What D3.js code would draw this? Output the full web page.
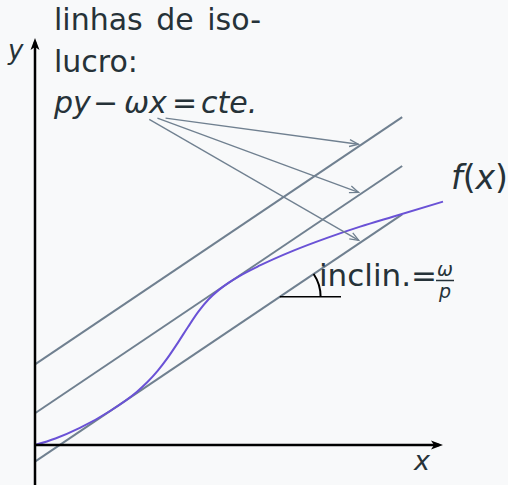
<!DOCTYPE html>
<html>
<head>
<meta charset="utf-8">
<script src="https://cdn.jsdelivr.net/npm/d3@7"></script>
<style>
  html, body { margin: 0; padding: 0; background: #f8f9fa; }
  svg { display: block; }
  text { font-family: "DejaVu Sans", sans-serif; fill: #263238; }
</style>
</head>
<body>
<script>
// Production function f(x): sampled points (x, y)
const curveX = [0, 0.5, 1.1, 1.84, 2.5, 2.75, 3.0, 3.25, 3.5, 3.75, 4.0, 4.25, 4.5, 4.75, 5.0, 5.5, 6.32, 7.16, 7.97, 8.77, 10];
const curveY = [0, 0.16, 0.42, 0.835, 1.31, 1.54, 1.815, 2.14, 2.51, 2.90, 3.27, 3.575, 3.805, 3.99, 4.145, 4.405, 4.77, 5.09, 5.365, 5.61, 5.98];

// Iso-profit lines y = c + (w/p) x
const slope = 0.675;
const intercepts = [1.98, 0.78, -0.41];
const lineXRange = [0, 9];

// Annotation arrows: start points near the equation, ending on each line at x = 8
const arrowStarts = [[3.2, 8.03], [3.0, 8.03], [2.8, 8.0]];
const arrowTargetX = 8;

// Slope marker on the lowest line
const angleCenterX = 6.0;
const angleLegEnd = 7.5;
const angleRadius = 1.0;

const W = 508, H = 485;
const svg = d3.select("body").append("svg").attr("width", W).attr("height", H);
svg.append("rect").attr("width", W).attr("height", H).attr("fill", "#f8f9fa");

const x = d3.scaleLinear().domain([0, 10]).range([35, 443]);
const y = d3.scaleLinear().domain([0, 10]).range([445, 38]);

const gray = "#708090";

// Iso-profit lines
svg.append("g").selectAll("line").data(intercepts).join("line")
  .attr("x1", x(lineXRange[0])).attr("y1", c => y(c + slope * lineXRange[0]))
  .attr("x2", x(lineXRange[1])).attr("y2", c => y(c + slope * lineXRange[1]))
  .attr("stroke", gray).attr("stroke-width", 2);

// f(x)
const pts = curveX.map((v, i) => [v, curveY[i]]);
svg.append("path")
  .attr("d", d3.line().x(d => x(d[0])).y(d => y(d[1])).curve(d3.curveMonotoneX)(pts))
  .attr("fill", "none").attr("stroke", "#6a52d6").attr("stroke-width", 2);

// Arrows from the equation to the lines
const arrowG = svg.append("g");
arrowStarts.forEach((s, i) => {
  const x0 = x(s[0]), y0 = y(s[1]);
  const x1f = x(arrowTargetX), y1f = y(intercepts[i] + slope * arrowTargetX);
  const ang = Math.atan2(y1f - y0, x1f - x0);
  const shrink = 3;
  const x1 = x1f - shrink * Math.cos(ang), y1 = y1f - shrink * Math.sin(ang);
  arrowG.append("line").attr("x1", x0).attr("y1", y0).attr("x2", x1).attr("y2", y1)
    .attr("stroke", gray).attr("stroke-width", 1.3);
  const hl = 9, hw = 3.5;
  const ca = Math.cos(ang), sa = Math.sin(ang);
  const p1 = [x1 - hl * ca + hw * sa, y1 - hl * sa - hw * ca];
  const p2 = [x1 - hl * ca - hw * sa, y1 - hl * sa + hw * ca];
  arrowG.append("path")
    .attr("d", `M${p1[0]},${p1[1]}L${x1},${y1}L${p2[0]},${p2[1]}`)
    .attr("fill", "none").attr("stroke", gray).attr("stroke-width", 1.3);
});

// Axes
const axG = svg.append("g");
axG.append("line").attr("x1", x(0)).attr("y1", y(0)).attr("x2", x(10) - 4).attr("y2", y(0))
  .attr("stroke", "#000").attr("stroke-width", 2.5);
axG.append("line").attr("x1", x(0)).attr("y1", y(-1)).attr("x2", x(0)).attr("y2", y(10) + 4)
  .attr("stroke", "#000").attr("stroke-width", 2.5);
// arrowheads
const tx = x(10), ty = y(0);
axG.append("path").attr("d", `M${tx},${ty}L${tx - 12},${ty - 4.5}L${tx - 9},${ty}L${tx - 12},${ty + 4.5}Z`).attr("fill", "#000");
const ux = x(0), uy = y(10);
axG.append("path").attr("d", `M${ux},${uy}L${ux - 4.5},${uy + 12}L${ux},${uy + 9}L${ux + 4.5},${uy + 12}Z`).attr("fill", "#000");

// Slope marker: horizontal leg and arc
const cx = x(angleCenterX), cy = y(intercepts[2] + slope * angleCenterX);
svg.append("line").attr("x1", cx).attr("y1", cy).attr("x2", x(angleLegEnd)).attr("y2", cy)
  .attr("stroke", "#000").attr("stroke-width", 1.5);
const rpx = x(angleRadius) - x(0);
const th = Math.atan(slope * (y(0) - y(1)) / (x(1) - x(0)));
svg.append("path")
  .attr("d", `M${cx + rpx},${cy}A${rpx},${rpx} 0 0 0 ${cx + rpx * Math.cos(th)},${cy - rpx * Math.sin(th)}`)
  .attr("fill", "none").attr("stroke", "#000").attr("stroke-width", 2);

// Labels
svg.append("text").attr("x", 54).attr("y", 30).attr("font-size", 30).attr("word-spacing", 4).text("linhas de iso-");
svg.append("text").attr("x", 54).attr("y", 71.5).attr("font-size", 30).text("lucro:");
const eq = svg.append("text").attr("y", 113).attr("font-size", 30).attr("font-style", "italic");
eq.append("tspan").attr("x", 54).text("py");
eq.append("tspan").attr("x", 93).attr("font-style", "normal").text("\u2212");
eq.append("tspan").attr("x", 124).text("\u03c9x");
eq.append("tspan").attr("x", 172).attr("font-style", "normal").text("=");
eq.append("tspan").attr("x", 201).text("cte.");

svg.append("text").attr("x", 8).attr("y", 59).attr("font-size", 26).attr("font-style", "italic").text("y");
svg.append("text").attr("x", 414).attr("y", 470).attr("font-size", 27).attr("font-style", "italic").text("x");

const fl = svg.append("text").attr("x", 451).attr("y", 189).attr("font-size", 33);
fl.append("tspan").attr("font-style", "italic").text("f");
fl.append("tspan").text("(");
fl.append("tspan").attr("font-style", "italic").text("x");
fl.append("tspan").text(")");

svg.append("text").attr("x", 319).attr("y", 286).attr("font-size", 31).text("inclin.=");
svg.append("text").attr("x", 445).attr("y", 276).attr("font-size", 19).attr("font-style", "italic")
  .attr("text-anchor", "middle").text("\u03c9");
svg.append("line").attr("x1", 436).attr("x2", 454).attr("y1", 280.5).attr("y2", 280.5)
  .attr("stroke", "#263238").attr("stroke-width", 1.5);
svg.append("text").attr("x", 445).attr("y", 298).attr("font-size", 19).attr("font-style", "italic")
  .attr("text-anchor", "middle").text("p");
</script>
</body>
</html>
